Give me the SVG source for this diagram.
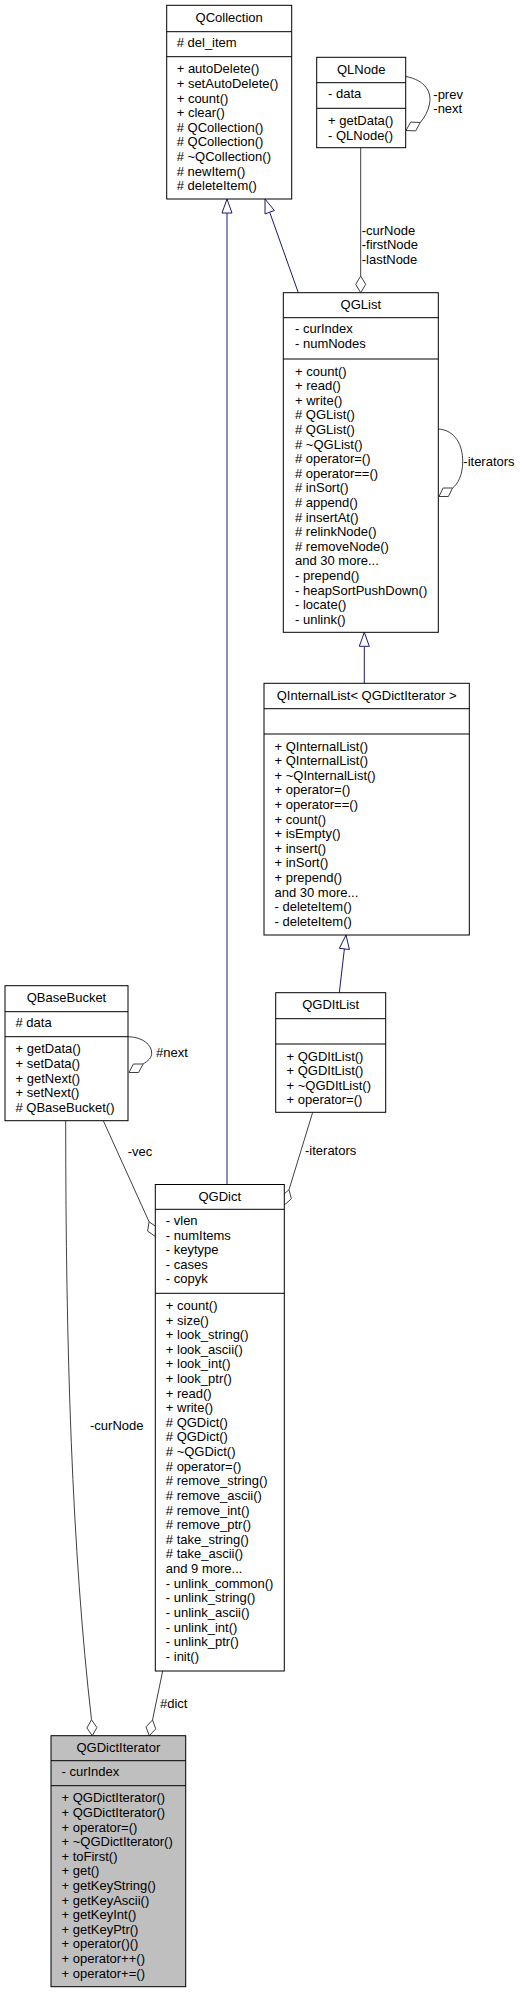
<svg xmlns="http://www.w3.org/2000/svg" width="524" height="1993" viewBox="0 0 524 1993">
<style>
text{font-family:"Liberation Sans",Arial,sans-serif;font-size:13px;fill:#000}
.t{text-anchor:middle}
.box{fill:#fff;stroke:#000;stroke-width:1}
.cur{fill:#bfbfbf;stroke:#000;stroke-width:1}
.sep{stroke:#000;stroke-width:1}
.inh{fill:none;stroke:#191970;stroke-width:1}
.tri{fill:#fff;stroke:#191970;stroke-width:1}
.use{fill:none;stroke:#404040;stroke-width:1}
.dia{fill:#fff;stroke:#404040;stroke-width:1}
</style>
<rect x="0" y="0" width="524" height="1993" fill="#fff"/>

<g id="connectors">
  <!-- inheritance QGDict -> QCollection -->
  <path class="inh" d="M227,1184.5 L227,213"/>
  <polygon class="tri" points="227,199 222,213 232,213"/>
  <!-- inheritance QGList -> QCollection -->
  <path class="inh" d="M298.3,292.7 L269.7,212.2"/>
  <polygon class="tri" points="265,199 274.4,210.5 265,213.9"/>
  <!-- inheritance QInternalList -> QGList -->
  <path class="inh" d="M364.3,683.3 L364.3,646.3"/>
  <polygon class="tri" points="364.3,632.3 359.3,646.3 369.3,646.3"/>
  <!-- inheritance QGDItList -> QInternalList -->
  <path class="inh" d="M339.3,992.7 L344.4,948.9"/>
  <polygon class="tri" points="346,935 349.4,949.5 339.4,948.3"/>

  <!-- QLNode self loop -->
  <path class="use" d="M405.7,76.5 C425,80 432,92 429.5,104 C428,112 424,118 420.3,122.5"/>
  <polygon class="dia" points="420.3,122.5 410.7,122.1 406,130.5 415.6,130.9"/>
  <text x="433.3" y="99">-prev</text>
  <text x="433.3" y="113">-next</text>

  <!-- QLNode -> QGList -->
  <path class="use" d="M360.7,147.7 L360.7,276"/>
  <polygon class="dia" points="360.7,276 355.7,284.35 360.7,292.7 365.7,284.35"/>
  <text x="361.7" y="234.5">-curNode</text>
  <text x="361.7" y="249">-firstNode</text>
  <text x="361.7" y="263.5">-lastNode</text>

  <!-- QGList self loop -->
  <path class="use" d="M438.3,429 C455,430 463,445 462.7,462 C462.5,475 458,484 452.5,488"/>
  <polygon class="dia" points="452.5,488 443.1,488 439,496.5 448.4,496.5"/>
  <text x="463.3" y="465.7">-iterators</text>

  <!-- QBaseBucket self loop -->
  <path class="use" d="M128,1036.7 C143,1037 151.7,1045 151.7,1053 C151.7,1058 148,1061 143,1064"/>
  <polygon class="dia" points="143,1064 133.4,1064 129,1072.5 138.6,1072.5"/>
  <text x="156" y="1056.5">#next</text>

  <!-- QBaseBucket -> QGDict (-vec) -->
  <path class="use" d="M103.3,1120.7 L149.1,1221.8"/>
  <polygon class="dia" points="149.1,1221.8 147.6,1231.1 155.3,1236.5 156.8,1227.2"/>
  <text x="127.7" y="1156">-vec</text>

  <!-- QGDItList -> QGDict (-iterators) -->
  <path class="use" d="M312.7,1112.3 L289,1189.7"/>
  <polygon class="dia" points="289,1189.7 281.9,1195.9 284.3,1205 291.4,1198.8"/>
  <text x="305" y="1155">-iterators</text>

  <!-- QBaseBucket -> QGDictIterator (-curNode) -->
  <path class="use" d="M65.7,1120.7 C65.7,1350 72,1550 91.5,1719.7"/>
  <polygon class="dia" points="91.5,1719.7 86.9,1728 92.3,1735.7 96.9,1727.5"/>
  <text x="90" y="1430">-curNode</text>

  <!-- QGDict -> QGDictIterator (#dict) -->
  <path class="use" d="M162.7,1671 L152.5,1720"/>
  <polygon class="dia" points="152.5,1720 146,1726.8 149.3,1735.7 155.8,1728.9"/>
  <text x="160" y="1707.5">#dict</text>
</g>

<g id="QCollection">
  <rect class="box" x="166.7" y="5.3" width="125" height="193.7"/>
  <line class="sep" x1="166.7" y1="31.7" x2="291.7" y2="31.7"/>
  <line class="sep" x1="166.7" y1="56.7" x2="291.7" y2="56.7"/>
  <text class="t" x="229.2" y="21.7">QCollection</text>
  <text x="176.7" y="47.3"># del_item</text>
  <text x="176.7" y="73.3">+ autoDelete()<tspan x="176.7" dy="14.6">+ setAutoDelete()</tspan><tspan x="176.7" dy="14.6">+ count()</tspan><tspan x="176.7" dy="14.6">+ clear()</tspan><tspan x="176.7" dy="14.6"># QCollection()</tspan><tspan x="176.7" dy="14.6"># QCollection()</tspan><tspan x="176.7" dy="14.6"># ~QCollection()</tspan><tspan x="176.7" dy="14.6"># newItem()</tspan><tspan x="176.7" dy="14.6"># deleteItem()</tspan></text>
</g>

<g id="QLNode">
  <rect class="box" x="316.7" y="57.3" width="89" height="90.4"/>
  <line class="sep" x1="316.7" y1="82.7" x2="405.7" y2="82.7"/>
  <line class="sep" x1="316.7" y1="108.3" x2="405.7" y2="108.3"/>
  <text class="t" x="361.2" y="73.7">QLNode</text>
  <text x="328" y="98.3">- data</text>
  <text x="328" y="124.9">+ getData()<tspan x="328" dy="14.6">- QLNode()</tspan></text>
</g>

<g id="QGList">
  <rect class="box" x="283.3" y="292.7" width="155" height="339.6"/>
  <line class="sep" x1="283.3" y1="317.7" x2="438.3" y2="317.7"/>
  <line class="sep" x1="283.3" y1="359" x2="438.3" y2="359"/>
  <text class="t" x="360.8" y="309.1">QGList</text>
  <text x="295" y="333.3">- curIndex<tspan x="295" dy="14.6">- numNodes</tspan></text>
  <text x="295" y="375.6">+ count()<tspan x="295" dy="14.6">+ read()</tspan><tspan x="295" dy="14.6">+ write()</tspan><tspan x="295" dy="14.6"># QGList()</tspan><tspan x="295" dy="14.6"># QGList()</tspan><tspan x="295" dy="14.6"># ~QGList()</tspan><tspan x="295" dy="14.6"># operator=()</tspan><tspan x="295" dy="14.6"># operator==()</tspan><tspan x="295" dy="14.6"># inSort()</tspan><tspan x="295" dy="14.6"># append()</tspan><tspan x="295" dy="14.6"># insertAt()</tspan><tspan x="295" dy="14.6"># relinkNode()</tspan><tspan x="295" dy="14.6"># removeNode()</tspan><tspan x="295" dy="14.6">and 30 more...</tspan><tspan x="295" dy="14.6">- prepend()</tspan><tspan x="295" dy="14.6">- heapSortPushDown()</tspan><tspan x="295" dy="14.6">- locate()</tspan><tspan x="295" dy="14.6">- unlink()</tspan></text>
</g>

<g id="QInternalList">
  <rect class="box" x="264" y="683.3" width="205.3" height="251.7"/>
  <line class="sep" x1="264" y1="708.7" x2="469.3" y2="708.7"/>
  <line class="sep" x1="264" y1="734" x2="469.3" y2="734"/>
  <text class="t" x="366.65" y="699.7">QInternalList&lt; QGDictIterator &gt;</text>
  <text x="274.5" y="750.6">+ QInternalList()<tspan x="274.5" dy="14.6">+ QInternalList()</tspan><tspan x="274.5" dy="14.6">+ ~QInternalList()</tspan><tspan x="274.5" dy="14.6">+ operator=()</tspan><tspan x="274.5" dy="14.6">+ operator==()</tspan><tspan x="274.5" dy="14.6">+ count()</tspan><tspan x="274.5" dy="14.6">+ isEmpty()</tspan><tspan x="274.5" dy="14.6">+ insert()</tspan><tspan x="274.5" dy="14.6">+ inSort()</tspan><tspan x="274.5" dy="14.6">+ prepend()</tspan><tspan x="274.5" dy="14.6">and 30 more...</tspan><tspan x="274.5" dy="14.6">- deleteItem()</tspan><tspan x="274.5" dy="14.6">- deleteItem()</tspan></text>
</g>

<g id="QGDItList">
  <rect class="box" x="275.7" y="992.7" width="110" height="119.6"/>
  <line class="sep" x1="275.7" y1="1018.7" x2="385.7" y2="1018.7"/>
  <line class="sep" x1="275.7" y1="1044" x2="385.7" y2="1044"/>
  <text class="t" x="330.7" y="1009.1">QGDItList</text>
  <text x="286.5" y="1060.6">+ QGDItList()<tspan x="286.5" dy="14.6">+ QGDItList()</tspan><tspan x="286.5" dy="14.6">+ ~QGDItList()</tspan><tspan x="286.5" dy="14.6">+ operator=()</tspan></text>
</g>

<g id="QBaseBucket">
  <rect class="box" x="5" y="985.7" width="123" height="135"/>
  <line class="sep" x1="5" y1="1011.7" x2="128" y2="1011.7"/>
  <line class="sep" x1="5" y1="1036.7" x2="128" y2="1036.7"/>
  <text class="t" x="66.5" y="1002.1">QBaseBucket</text>
  <text x="15.5" y="1027.3"># data</text>
  <text x="15.5" y="1053.3">+ getData()<tspan x="15.5" dy="14.6">+ setData()</tspan><tspan x="15.5" dy="14.6">+ getNext()</tspan><tspan x="15.5" dy="14.6">+ setNext()</tspan><tspan x="15.5" dy="14.6"># QBaseBucket()</tspan></text>
</g>

<g id="QGDict">
  <rect class="box" x="155.3" y="1184.5" width="129" height="486.5"/>
  <line class="sep" x1="155.3" y1="1209.3" x2="284.3" y2="1209.3"/>
  <line class="sep" x1="155.3" y1="1293.3" x2="284.3" y2="1293.3"/>
  <text class="t" x="219.8" y="1200.9">QGDict</text>
  <text x="165.8" y="1224.9">- vlen<tspan x="165.8" dy="14.6">- numItems</tspan><tspan x="165.8" dy="14.6">- keytype</tspan><tspan x="165.8" dy="14.6">- cases</tspan><tspan x="165.8" dy="14.6">- copyk</tspan></text>
  <text x="165.8" y="1309.9">+ count()<tspan x="165.8" dy="14.62">+ size()</tspan><tspan x="165.8" dy="14.62">+ look_string()</tspan><tspan x="165.8" dy="14.62">+ look_ascii()</tspan><tspan x="165.8" dy="14.62">+ look_int()</tspan><tspan x="165.8" dy="14.62">+ look_ptr()</tspan><tspan x="165.8" dy="14.62">+ read()</tspan><tspan x="165.8" dy="14.62">+ write()</tspan><tspan x="165.8" dy="14.62"># QGDict()</tspan><tspan x="165.8" dy="14.62"># QGDict()</tspan><tspan x="165.8" dy="14.62"># ~QGDict()</tspan><tspan x="165.8" dy="14.62"># operator=()</tspan><tspan x="165.8" dy="14.62"># remove_string()</tspan><tspan x="165.8" dy="14.62"># remove_ascii()</tspan><tspan x="165.8" dy="14.62"># remove_int()</tspan><tspan x="165.8" dy="14.62"># remove_ptr()</tspan><tspan x="165.8" dy="14.62"># take_string()</tspan><tspan x="165.8" dy="14.62"># take_ascii()</tspan><tspan x="165.8" dy="14.62">and 9 more...</tspan><tspan x="165.8" dy="14.62">- unlink_common()</tspan><tspan x="165.8" dy="14.62">- unlink_string()</tspan><tspan x="165.8" dy="14.62">- unlink_ascii()</tspan><tspan x="165.8" dy="14.62">- unlink_int()</tspan><tspan x="165.8" dy="14.62">- unlink_ptr()</tspan><tspan x="165.8" dy="14.62">- init()</tspan></text>
</g>

<g id="QGDictIterator">
  <rect class="cur" x="51" y="1735.7" width="134.7" height="251"/>
  <line class="sep" x1="51" y1="1760.7" x2="185.7" y2="1760.7"/>
  <line class="sep" x1="51" y1="1785.7" x2="185.7" y2="1785.7"/>
  <text class="t" x="118.35" y="1752.1">QGDictIterator</text>
  <text x="61.5" y="1776.3">- curIndex</text>
  <text x="61.5" y="1802.3">+ QGDictIterator()<tspan x="61.5" dy="14.6">+ QGDictIterator()</tspan><tspan x="61.5" dy="14.6">+ operator=()</tspan><tspan x="61.5" dy="14.6">+ ~QGDictIterator()</tspan><tspan x="61.5" dy="14.6">+ toFirst()</tspan><tspan x="61.5" dy="14.6">+ get()</tspan><tspan x="61.5" dy="14.6">+ getKeyString()</tspan><tspan x="61.5" dy="14.6">+ getKeyAscii()</tspan><tspan x="61.5" dy="14.6">+ getKeyInt()</tspan><tspan x="61.5" dy="14.6">+ getKeyPtr()</tspan><tspan x="61.5" dy="14.6">+ operator()()</tspan><tspan x="61.5" dy="14.6">+ operator++()</tspan><tspan x="61.5" dy="14.6">+ operator+=()</tspan></text>
</g>
</svg>
